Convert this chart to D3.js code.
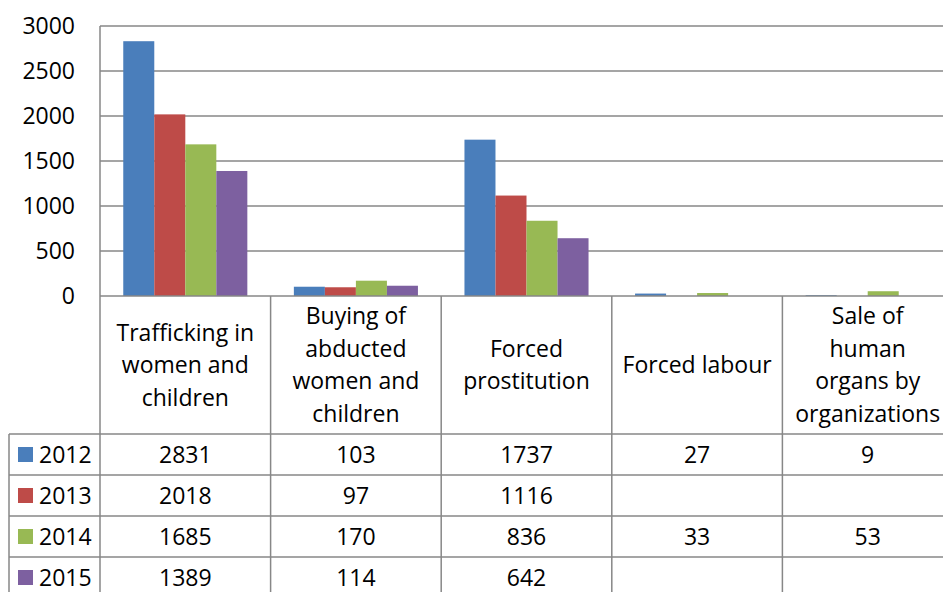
<!DOCTYPE html>
<html>
<head>
<meta charset="utf-8">
<script src="https://cdn.jsdelivr.net/npm/d3@7"></script>
<style>
  body { margin: 0; background: #fff; }
  svg { display: block; font-family: "Open Sans", sans-serif; }
</style>
</head>
<body>
<div id="chart"></div>
<script>
// categories (with the line breaks used in the data table header)
const categories = [
    "Trafficking in\nwomen and\nchildren",
    "Buying of\nabducted\nwomen and\nchildren",
    "Forced\nprostitution",
    "Forced labour",
    "Sale of\nhuman\norgans by\norganizations"
];
const years = ["2012", "2013", "2014", "2015"];
const values2012 = [2831, 103, 1737, 27, 9];
const values2013 = [2018, 97, 1116, null, null];
const values2014 = [1685, 170, 836, 33, 53];
const values2015 = [1389, 114, 642, null, null];
const yTicks = [0, 500, 1000, 1500, 2000, 2500, 3000];
const colors = ["#4a7ebb", "#be4b48", "#98b954", "#7d60a0"];

const series = [values2012, values2013, values2014, values2015];

const W = 943, H = 592;
const plotLeft = 100, plotRight = 953, plotTop = 26, axisY = 296;
const headerBottom = 434, rowH = 41, tableLeft = 9;
const gridColor = "#878787";
const fontSize = "23px";

const svg = d3.select("#chart").append("svg")
    .attr("width", W)
    .attr("height", H);

let x0 = d3.scaleBand()
    .domain(d3.range(categories.length))
    .range([plotLeft, plotRight]);
let x1 = d3.scaleBand()
    .domain(years)
    .range([0, x0.bandwidth()])
    .paddingOuter(0.75);
let y = d3.scaleLinear()
    .domain([0, 3000])
    .range([axisY, plotTop]);

// gridlines
svg.append("g")
    .selectAll("line")
    .data(yTicks.filter(d => d > 0))
    .enter()
    .append("line")
    .attr("x1", plotLeft)
    .attr("x2", plotRight)
    .attr("y1", d => y(d))
    .attr("y2", d => y(d))
    .attr("stroke", gridColor)
    .attr("stroke-width", 1.5);

// y axis labels
let yAxis = svg.append("g")
    .attr("transform", "translate(" + plotLeft + ",0)")
    .call(d3.axisLeft(y).tickValues(yTicks).tickFormat(d3.format("d")).tickSize(0).tickPadding(25));
yAxis.select(".domain").remove();
yAxis.selectAll("text")
    .attr("font-family", "'Open Sans', sans-serif")
    .attr("font-size", fontSize)
    .attr("fill", "#000");

// bars
svg.append("g")
    .selectAll("g")
    .data(series)
    .enter()
    .append("g")
    .attr("fill", (d, i) => colors[i])
    .selectAll("rect")
    .data((d, i) => d.map((v, j) => ({ v: v, j: j, year: years[i] })).filter(d => d.v != null))
    .enter()
    .append("rect")
    .attr("x", d => x0(d.j) + x1(d.year))
    .attr("y", d => y(d.v))
    .attr("width", x1.bandwidth())
    .attr("height", d => y(0) - y(d.v));

// data table lines
let table = svg.append("g")
    .attr("stroke", gridColor)
    .attr("stroke-width", 1.5)
    .attr("fill", "none");
let tableBottom = headerBottom + rowH * years.length;
// axis line (0) and table horizontal lines
table.append("line")
    .attr("x1", plotLeft).attr("x2", plotRight)
    .attr("y1", y(0)).attr("y2", y(0));
years.forEach((yr, i) => {
    table.append("line")
        .attr("x1", tableLeft).attr("x2", plotRight)
        .attr("y1", headerBottom + i * rowH).attr("y2", headerBottom + i * rowH);
});
table.append("line")
    .attr("x1", tableLeft).attr("x2", plotRight)
    .attr("y1", tableBottom).attr("y2", tableBottom);
// vertical lines
table.append("line")
    .attr("x1", tableLeft).attr("x2", tableLeft)
    .attr("y1", headerBottom).attr("y2", tableBottom);
table.append("line")
    .attr("x1", plotLeft).attr("x2", plotLeft)
    .attr("y1", plotTop).attr("y2", tableBottom);
categories.forEach((c, j) => {
    let xx = x0(j) + x0.bandwidth();
    table.append("line")
        .attr("x1", xx).attr("x2", xx)
        .attr("y1", axisY).attr("y2", tableBottom);
});

// header text
let lineH = 32.5;
let headers = svg.append("g")
    .attr("font-size", fontSize)
    .attr("text-anchor", "middle")
    .attr("fill", "#000");
categories.forEach((c, j) => {
    let lines = c.split("\n");
    let cx = x0(j) + x0.bandwidth() / 2;
    let cy = (axisY + headerBottom) / 2 - (lines.length - 1) * lineH / 2;
    let t = headers.append("text");
    lines.forEach((ln, k) => {
        t.append("tspan")
            .attr("x", cx)
            .attr("y", cy + k * lineH)
            .attr("dy", "0.35em")
            .text(ln);
    });
});

// table rows
let rows = svg.append("g")
    .attr("font-size", fontSize)
    .attr("fill", "#000");
series.forEach((vals, i) => {
    let cy = headerBottom + i * rowH + rowH / 2;
    rows.append("rect")
        .attr("x", 18)
        .attr("y", cy - 7.5)
        .attr("width", 15)
        .attr("height", 15)
        .attr("fill", colors[i]);
    rows.append("text")
        .attr("x", 39)
        .attr("y", cy)
        .attr("dy", "0.35em")
        .text(years[i]);
    vals.forEach((v, j) => {
        if (v == null) return;
        rows.append("text")
            .attr("x", x0(j) + x0.bandwidth() / 2)
            .attr("y", cy)
            .attr("dy", "0.35em")
            .attr("text-anchor", "middle")
            .text(v);
    });
});
</script>
</body>
</html>
